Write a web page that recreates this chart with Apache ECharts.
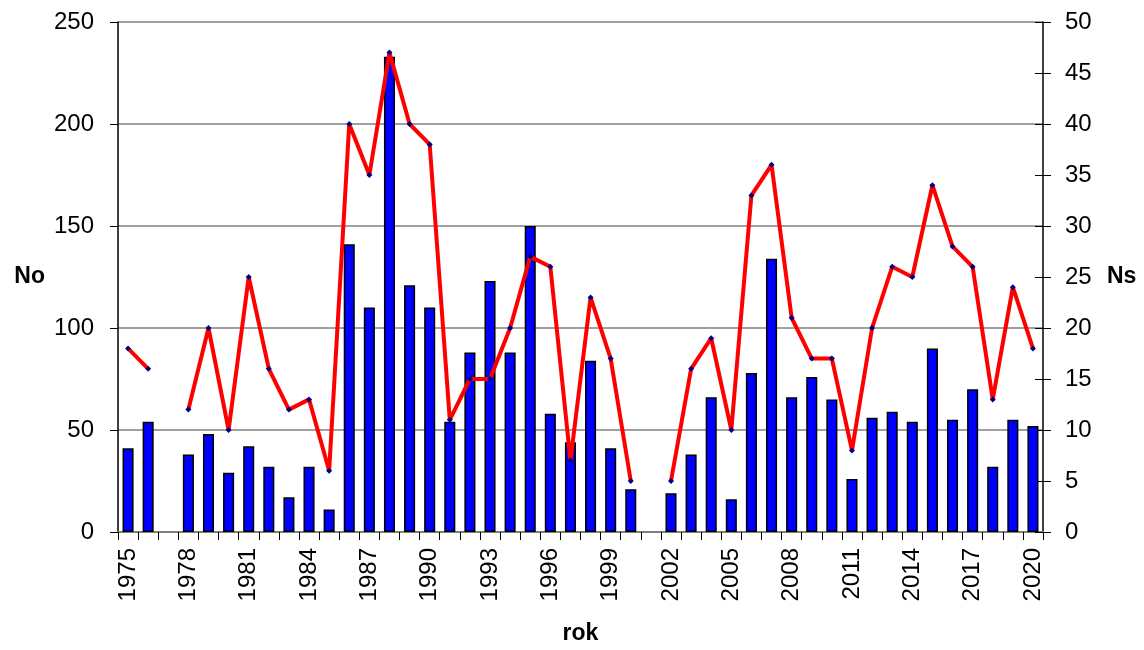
<!DOCTYPE html>
<html>
<head>
<meta charset="utf-8">
<script src="https://cdn.jsdelivr.net/npm/echarts@6/dist/echarts.min.js"></script>
<style>
  html, body { margin: 0; padding: 0; background: #fff; }
  #chart { width: 1144px; height: 650px; }
</style>
</head>
<body>
<div id="chart"></div>
<script>
// lata 1975-2020
const years = [];
for (let y = 1975; y <= 2020; y++) years.push(String(y));

// No (słupki, lewa oś)
const noValues = [
  41, 54, null, 38, 48, 29, 42, 32, 17, 32,
  11, 141, 110, 233, 121, 110, 54, 88, 123, 88,
  150, 58, 44, 84, 41, 21, null, 19, 38, 66,
  16, 78, 134, 66, 76, 65, 26, 56, 59, 54,
  90, 55, 70, 32, 55, 52
];

// Ns (linia, prawa oś)
const nsValues = [
  18, 16, null, 12, 20, 10, 25, 16, 12, 13,
  6, 40, 35, 47, 40, 38, 11, 15, 15, 20,
  27, 26, 7, 23, 17, 5, null, 5, 16, 19,
  10, 33, 36, 21, 17, 17, 8, 20, 26, 25,
  34, 28, 26, 13, 24, 18
];

const font = 'Liberation Sans, Arial, sans-serif';
const chart = echarts.init(document.getElementById('chart'), null, { renderer: 'canvas' });

chart.setOption({
  animation: false,
  backgroundColor: '#fff',
  grid: { left: 118, right: 101, top: 22, bottom: 117 },
  xAxis: {
    type: 'category',
    data: years,
    boundaryGap: true,
    name: 'rok',
    nameLocation: 'middle',
    nameGap: 90,
    nameTextStyle: { fontFamily: font, fontSize: 23, fontWeight: 'bold', color: '#000', verticalAlign: 'top' },
    axisLine: { lineStyle: { color: '#808080', width: 2 } },
    axisTick: { show: true, interval: 0, length: 8, lineStyle: { color: '#000' } },
    axisLabel: { interval: 2, rotate: 90, fontFamily: font, fontSize: 24, color: '#000', margin: 16 }
  },
  yAxis: [
    {
      type: 'value',
      min: 0, max: 250, interval: 50,
      name: 'No',
      nameLocation: 'middle',
      nameRotate: 0,
      nameGap: 73,
      nameTextStyle: { fontFamily: font, fontSize: 23, fontWeight: 'bold', color: '#000' },
      axisLine: { show: true, lineStyle: { color: '#000', width: 1.5 } },
      axisTick: { show: true, length: 8, lineStyle: { color: '#000' } },
      axisLabel: { fontFamily: font, fontSize: 24, color: '#000', margin: 24 },
      splitLine: { show: true, lineStyle: { color: '#808080', width: 1.5 } }
    },
    {
      type: 'value',
      min: 0, max: 50, interval: 5,
      name: 'Ns',
      nameLocation: 'middle',
      nameRotate: 0,
      nameGap: 64,
      nameTextStyle: { fontFamily: font, fontSize: 23, fontWeight: 'bold', color: '#000' },
      axisLine: { show: true, lineStyle: { color: '#000', width: 1.5 } },
      axisTick: { show: true, length: 8, lineStyle: { color: '#000' } },
      axisLabel: { fontFamily: font, fontSize: 24, color: '#000', margin: 22 },
      splitLine: { show: false }
    },
    {
      // druga połowa kresek prawej osi (kreski przecinające oś)
      type: 'value',
      position: 'right',
      min: 0, max: 50, interval: 5,
      axisLine: { show: false },
      axisTick: { show: true, inside: true, length: 8, lineStyle: { color: '#000' } },
      axisLabel: { show: false },
      splitLine: { show: false }
    }
  ],
  series: [
    {
      name: 'No',
      type: 'bar',
      yAxisIndex: 0,
      data: noValues,
      barWidth: '55%',
      itemStyle: { color: '#0000ff', borderColor: '#000', borderWidth: 1.5 }
    },
    {
      name: 'Ns',
      type: 'line',
      yAxisIndex: 1,
      data: nsValues,
      connectNulls: false,
      symbol: 'diamond',
      symbolSize: 6,
      showAllSymbol: true,
      itemStyle: { color: '#000080' },
      lineStyle: { color: '#ff0000', width: 4 }
    }
  ]
});
</script>
</body>
</html>
